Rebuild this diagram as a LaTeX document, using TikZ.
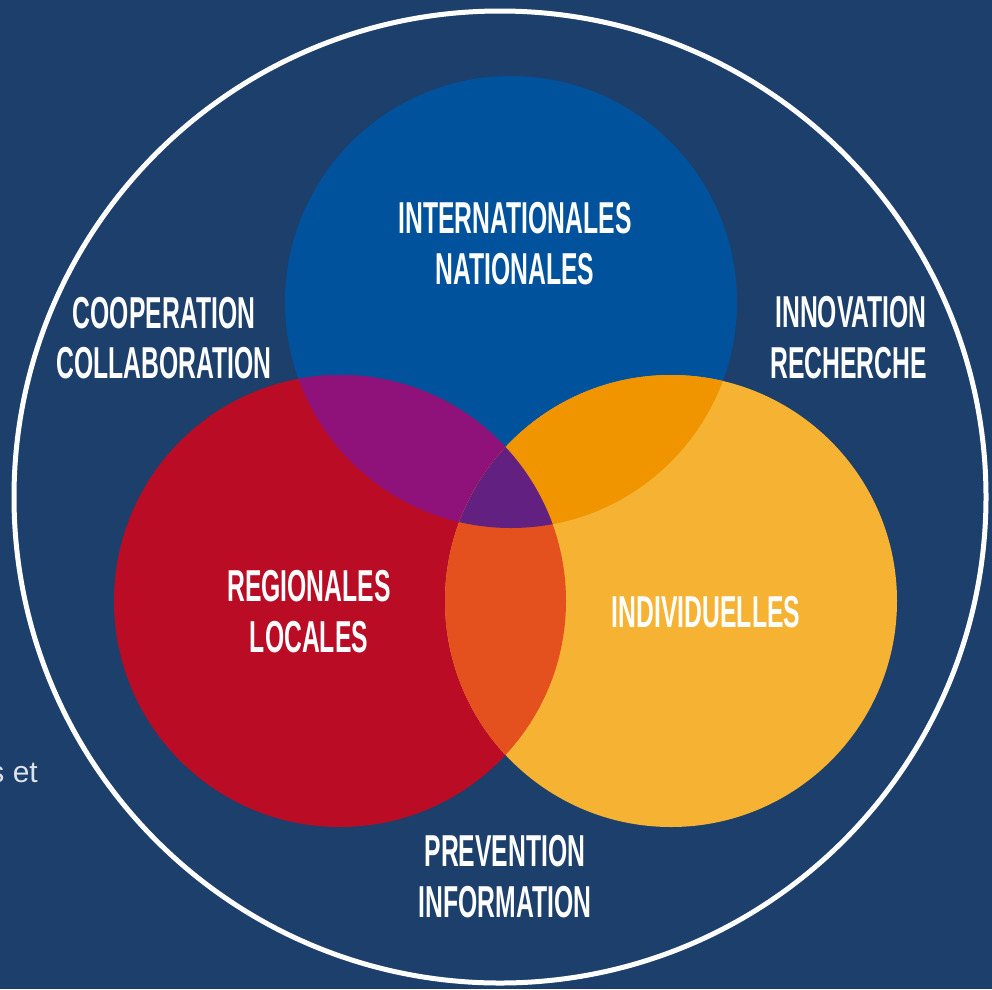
\documentclass[tikz,border=0pt]{standalone}
\usepackage{fontspec}
\newfontfamily\cond[FakeStretch=0.553]{Liberation Sans Bold}
\newfontfamily\plainsans{Liberation Sans}
\definecolor{bg}{HTML}{1D3F6B}
\definecolor{cblue}{HTML}{00529C}
\definecolor{cred}{HTML}{BA0C24}
\definecolor{cyellow}{HTML}{F6B232}
\definecolor{cbr}{HTML}{8E1279}
\definecolor{cby}{HTML}{F09500}
\definecolor{cry}{HTML}{E5501F}
\definecolor{cbry}{HTML}{622080}
\definecolor{sidetext}{HTML}{DDE3EA}
\tikzset{
  lbl/.style={text=white, inner sep=0pt, align=center, font={\cond\fontsize{44.7}{50.5}\selectfont}},
}
\begin{document}
\begin{tikzpicture}[x=1pt,y=-1pt]
\useasboundingbox (0,0) rectangle (992,989);
\fill[bg] (0,0) rectangle (992,989);
% side text fragment
\node[text=sidetext, inner sep=0pt, anchor=base east, font={\plainsans\fontsize{30}{36}\selectfont}] (side) at (38,782) {s et};
% outer ring
\draw[white, line width=5pt] (500,497) circle[radius=486];
% circles
\coordinate (B) at (511,302);
\coordinate (R) at (340,601);
\coordinate (Y) at (671,601);
\fill[cblue] (B) circle[radius=226];
\fill[cred] (R) circle[radius=226];
\fill[cyellow] (Y) circle[radius=226];
\begin{scope}
  \clip (R) circle[radius=226];
  \fill[cbr] (B) circle[radius=226];
\end{scope}
\begin{scope}
  \clip (B) circle[radius=226];
  \fill[cby] (Y) circle[radius=226];
\end{scope}
\begin{scope}
  \clip (R) circle[radius=226];
  \fill[cry] (Y) circle[radius=226];
\end{scope}
\begin{scope}
  \clip (R) circle[radius=226];
  \clip (B) circle[radius=226];
  \fill[cbry] (Y) circle[radius=226];
\end{scope}
% labels
\node[lbl] (intl) at (515,243.5) {INTERNATIONALES\\NATIONALES};
\node[lbl] (coop) at (164,338) {COOPERATION\\COLLABORATION};
\node[lbl, align=right, anchor=east] (innov) at (927,337.5) {INNOVATION\\RECHERCHE};
\node[lbl] (reg) at (309,611.5) {REGIONALES\\LOCALES};
\node[lbl] (indiv) at (706,612) {INDIVIDUELLES};
\node[lbl] (prev) at (505,876.5) {PREVENTION\\INFORMATION};
\end{tikzpicture}
\end{document}
